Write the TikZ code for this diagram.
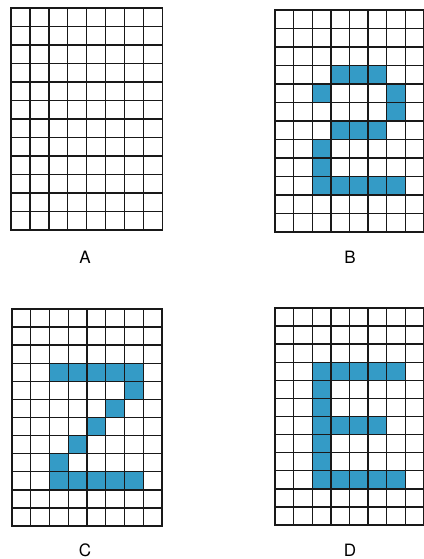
\documentclass[tikz,border=0pt]{standalone}
\usepackage{fontspec}
\setmainfont{TeX Gyre Heros}
\definecolor{pix}{RGB}{52,155,198}
\newcommand\pixcells[5]{%
  \foreach \c/\r in {#5} {\fill[pixcell] ({#1+\c*#3},{#2+\r*#4}) rectangle ++(#3,#4);}%
}
\newcommand\pixgrid[4]{%
  \foreach \i in {0,...,8} {\draw[gridline] ({#1+\i*#3},#2) -- ++(0,{12*#4});}%
  \foreach \j in {0,...,12} {\draw[gridline] (#1,{#2+\j*#4}) -- ++({8*#3},0);}%
}
\begin{document}
\begin{tikzpicture}[x=1pt,y=-1pt,
  gridline/.style={line width=1.4pt, black!90, line cap=rect},
  pixcell/.style={fill=pix},
  lab/.style={font=\fontsize{17}{17}\selectfont, inner sep=0pt}]
\useasboundingbox (0,0) rectangle (423,559);
% A
\pixgrid{11}{8}{18.9}{18.5}
% B
\pixcells{275}{10}{18.6}{18.5}{3/3,4/3,5/3,2/4,6/4,6/5,3/6,4/6,5/6,2/7,2/8,2/9,3/9,4/9,5/9,6/9}
\pixgrid{275}{10}{18.6}{18.5}
% C
\pixcells{12}{309}{18.75}{18.08}{2/3,3/3,4/3,5/3,6/3,6/4,5/5,4/6,3/7,2/8,2/9,3/9,4/9,5/9,6/9}
\pixgrid{12}{309}{18.75}{18.08}
% D
\pixcells{275}{308}{18.6}{18.08}{2/3,3/3,4/3,5/3,6/3,2/4,2/5,2/6,3/6,4/6,5/6,2/7,2/8,2/9,3/9,4/9,5/9,6/9}
\pixgrid{275}{308}{18.6}{18.08}
\node[lab] (la) at (85,257) {A};
\node[lab] (lb) at (350,257) {B};
\node[lab] (lc) at (85,550) {C};
\node[lab] (ld) at (350,550) {D};
\end{tikzpicture}
\end{document}
